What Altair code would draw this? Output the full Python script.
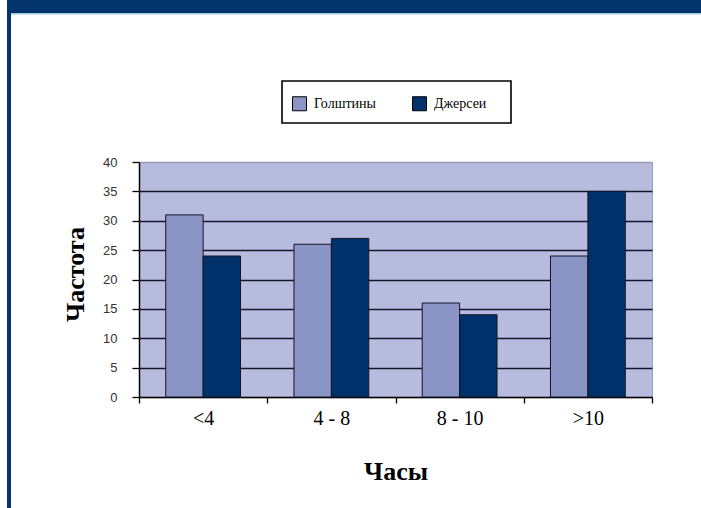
import altair as alt
import pandas as pd

categories = ["<4", "4 - 8", "8 - 10", ">10"]
series = ["Голштины", "Джерсеи"]
holstein = [31, 26, 16, 24]
jersey = [24, 27, 14, 35]
y_ticks = [0, 5, 10, 15, 20, 25, 30, 35, 40]
colors = ["#8b95c5", "#00316b"]

rows = []
for c, h, j in zip(categories, holstein, jersey):
    rows.append({"cat": c, "breed": series[0], "value": h})
    rows.append({"cat": c, "breed": series[1], "value": j})
df = pd.DataFrame(rows)

one = pd.DataFrame({"a": [0]})

W, H = 513, 235
PL, PT, PR, PB = 139, 162, 49, 111

top_band = alt.Chart(one).mark_rect(color="#03346b").encode(
    x=alt.value(7 - PL), x2=alt.value(701 - PL),
    y=alt.value(-PT), y2=alt.value(13 - PT))
top_line = alt.Chart(one).mark_rect(color="#9fc9e3").encode(
    x=alt.value(7 - PL), x2=alt.value(701 - PL),
    y=alt.value(13 - PT), y2=alt.value(14.5 - PT))
left_band = alt.Chart(one).mark_rect(color="#03346b").encode(
    x=alt.value(7 - PL), x2=alt.value(11 - PL),
    y=alt.value(-PT), y2=alt.value(508 - PT))
legend_box = alt.Chart(one).mark_rect(fill="white", stroke="black", strokeWidth=1.6).encode(
    x=alt.value(282 - PL), x2=alt.value(511 - PL),
    y=alt.value(81 - PT), y2=alt.value(123 - PT))

bars = alt.Chart(df).mark_bar(stroke="#151528", strokeWidth=1).encode(
    x=alt.X("cat:N", sort=categories,
            scale=alt.Scale(paddingInner=0, paddingOuter=0),
            axis=alt.Axis(title="Часы", labelAngle=0, tickBand="extent",
                          labelFont="Liberation Serif", labelFontSize=20,
                          labelColor="black", labelPadding=5,
                          tickSize=6, tickColor="black", tickWidth=1.3,
                          domainColor="black", domainWidth=1.5, grid=False,
                          titleFont="Liberation Serif", titleFontWeight="bold",
                          titleFontSize=26, titleColor="black", titlePadding=30)),
    xOffset=alt.XOffset("breed:N", sort=series,
                        scale=alt.Scale(paddingInner=0, paddingOuter=0.715)),
    y=alt.Y("value:Q", scale=alt.Scale(domain=[0, 40], nice=False),
            axis=alt.Axis(values=y_ticks, title="Частота",
                          labelFont="Liberation Sans", labelFontSize=13,
                          labelColor="#333333", labelPadding=15,
                          tickSize=7, tickColor="black", tickWidth=1.3,
                          domainColor="black", domainWidth=1.5,
                          grid=True,
                          gridColor={"condition": {"test": "datum.value === 40 || datum.value === 0",
                                                   "value": "#9a9cb4"},
                                     "value": "#15152a"},
                          gridWidth=1.3,
                          titleFont="Liberation Serif", titleFontWeight="bold",
                          titleFontSize=26, titleColor="black", titlePadding=14,
                          titleY=112)),
    color=alt.Color("breed:N", sort=series,
                    scale=alt.Scale(domain=series, range=colors),
                    legend=alt.Legend(orient="none", legendX=141, legendY=-78,
                                      direction="horizontal", title=None,
                                      symbolType="square", symbolSize=196,
                                      symbolStrokeColor="black", symbolStrokeWidth=1,
                                      symbolOpacity=1,
                                      labelFont="Liberation Serif", labelFontSize=14,
                                      labelColor="black", labelOffset=7,
                                      columnPadding=34, padding=12)),
)

chart = alt.layer(top_band, top_line, left_band, legend_box, bars).properties(
    width=W, height=H,
    autosize=alt.AutoSizeParams(type="none"),
    padding={"left": PL, "top": PT, "right": PR, "bottom": PB},
    background="white",
).configure_view(fill="#b7bbdd", stroke="#9a9cb4", strokeWidth=1)

chart.save("out.html", embed_options={"renderer": "svg", "actions": False})
